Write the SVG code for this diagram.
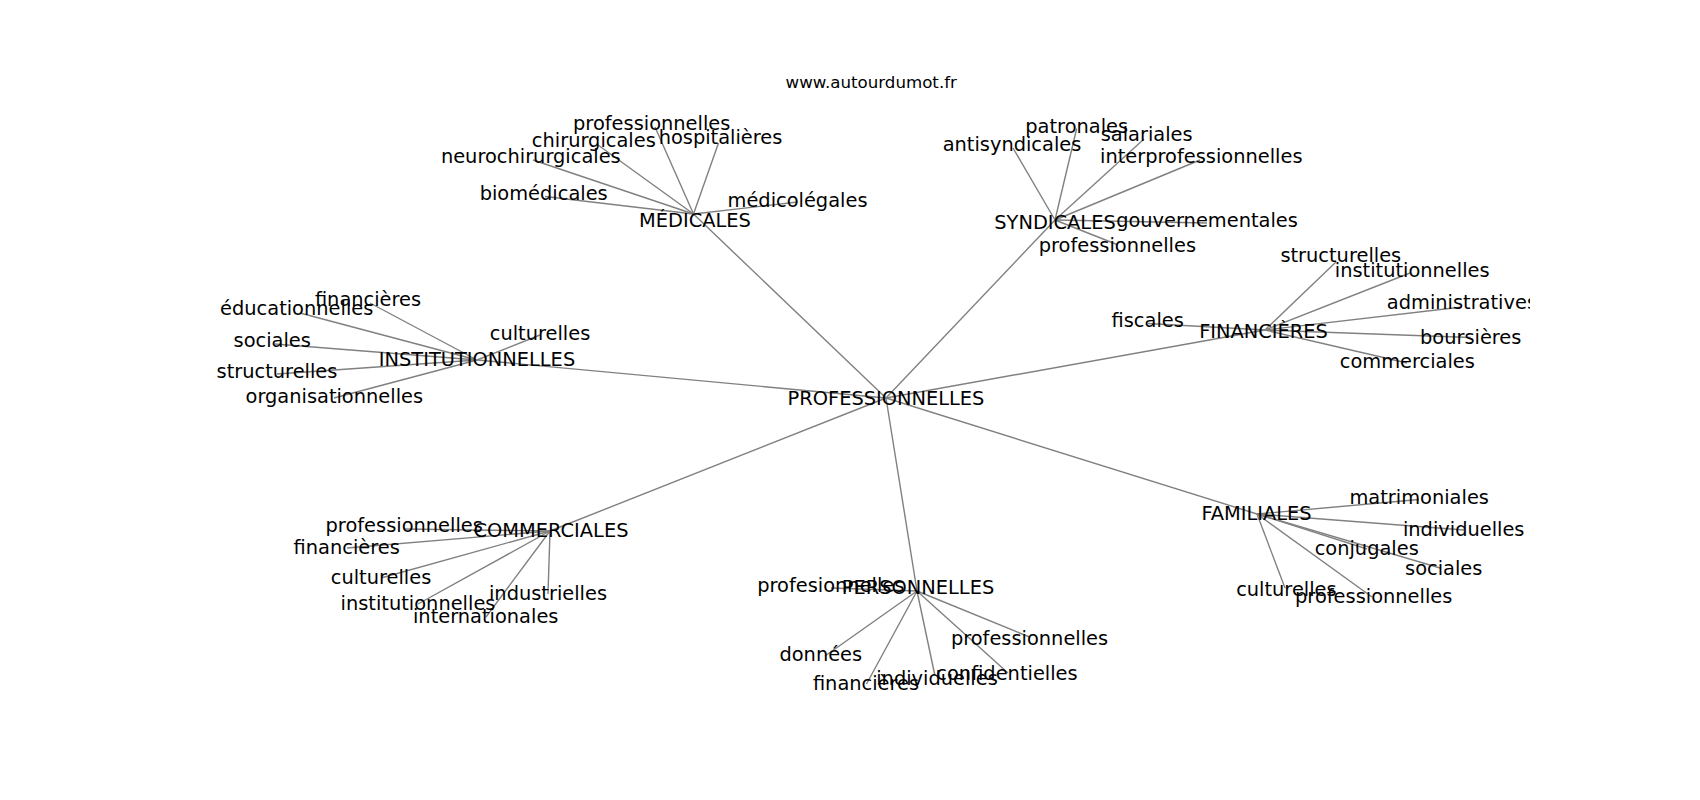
<svg xmlns="http://www.w3.org/2000/svg" width="1700" height="800" viewBox="0 0 1700 800">
<style>
.e{stroke:#808080;stroke-width:1.4;fill:none}
.t{font-family:"DejaVu Sans","Liberation Sans",sans-serif;font-size:19.4px;fill:#000;text-anchor:middle}
.title{font-family:"DejaVu Sans","Liberation Sans",sans-serif;font-size:16.67px;fill:#000;text-anchor:middle}
</style>
<defs><clipPath id="ax"><rect x="212.5" y="96" width="1317.5" height="616"/></clipPath></defs>
<rect width="1700" height="800" fill="#fff"/>
<text class="title" x="871.25" y="87.8">www.autourdumot.fr</text>
<g clip-path="url(#ax)">
<g id="edges">
<line class="e" x1="886" y1="398" x2="693.5" y2="214"/>
<line class="e" x1="886" y1="398" x2="1055" y2="220"/>
<line class="e" x1="886" y1="398" x2="1265" y2="330"/>
<line class="e" x1="886" y1="398" x2="477" y2="360"/>
<line class="e" x1="886" y1="398" x2="550" y2="531"/>
<line class="e" x1="886" y1="398" x2="917" y2="591"/>
<line class="e" x1="886" y1="398" x2="1257" y2="514"/>
<line class="e" x1="693.5" y1="214" x2="655" y2="127"/>
<line class="e" x1="693.5" y1="214" x2="598" y2="145"/>
<line class="e" x1="693.5" y1="214" x2="718.5" y2="143"/>
<line class="e" x1="693.5" y1="214" x2="533" y2="160"/>
<line class="e" x1="693.5" y1="214" x2="545" y2="196.5"/>
<line class="e" x1="693.5" y1="214" x2="797.5" y2="202"/>
<line class="e" x1="1055" y1="220" x2="1013" y2="148"/>
<line class="e" x1="1055" y1="220" x2="1076.7" y2="128.5"/>
<line class="e" x1="1055" y1="220" x2="1144" y2="139"/>
<line class="e" x1="1055" y1="220" x2="1200" y2="160"/>
<line class="e" x1="1055" y1="220" x2="1207" y2="223"/>
<line class="e" x1="1055" y1="220" x2="1117" y2="244.5"/>
<line class="e" x1="1265" y1="330" x2="1336" y2="262"/>
<line class="e" x1="1265" y1="330" x2="1410" y2="273"/>
<line class="e" x1="1265" y1="330" x2="1462" y2="307"/>
<line class="e" x1="1265" y1="330" x2="1148" y2="323.5"/>
<line class="e" x1="1265" y1="330" x2="1470.7" y2="337.5"/>
<line class="e" x1="1265" y1="330" x2="1407" y2="363"/>
<line class="e" x1="477" y1="360" x2="370" y2="303"/>
<line class="e" x1="477" y1="360" x2="300" y2="313"/>
<line class="e" x1="477" y1="360" x2="275" y2="344"/>
<line class="e" x1="477" y1="360" x2="277" y2="374"/>
<line class="e" x1="477" y1="360" x2="334" y2="398"/>
<line class="e" x1="477" y1="360" x2="540" y2="335"/>
<line class="e" x1="550" y1="531" x2="404" y2="529"/>
<line class="e" x1="550" y1="531" x2="347" y2="548"/>
<line class="e" x1="550" y1="531" x2="381" y2="578"/>
<line class="e" x1="550" y1="531" x2="418" y2="604"/>
<line class="e" x1="550" y1="531" x2="486" y2="617"/>
<line class="e" x1="550" y1="531" x2="548" y2="594"/>
<line class="e" x1="917" y1="591" x2="831" y2="588"/>
<line class="e" x1="917" y1="591" x2="825" y2="656"/>
<line class="e" x1="917" y1="591" x2="866.5" y2="684"/>
<line class="e" x1="917" y1="591" x2="935" y2="676"/>
<line class="e" x1="917" y1="591" x2="1008" y2="673"/>
<line class="e" x1="917" y1="591" x2="1029.5" y2="637"/>
<line class="e" x1="1257" y1="514" x2="1419" y2="499.5"/>
<line class="e" x1="1257" y1="514" x2="1464" y2="530"/>
<line class="e" x1="1257" y1="514" x2="1367" y2="549"/>
<line class="e" x1="1257" y1="514" x2="1440" y2="568"/>
<line class="e" x1="1257" y1="514" x2="1285" y2="588"/>
<line class="e" x1="1257" y1="514" x2="1372" y2="597"/>
</g>
<g id="n-professionnelles"><text class="t" x="886" y="404.5">PROFESSIONNELLES</text></g>
<g id="n-medicales"><text class="t" x="695" y="227">MÉDICALES</text></g>
<g id="n-syndicales"><text class="t" x="1055" y="229">SYNDICALES</text></g>
<g id="n-financieres"><text class="t" x="1263.5" y="337.5">FINANCIÈRES</text></g>
<g id="n-institutionnelles"><text class="t" x="477" y="366">INSTITUTIONNELLES</text></g>
<g id="n-commerciales"><text class="t" x="551" y="536.5">COMMERCIALES</text></g>
<g id="n-personnelles"><text class="t" x="918" y="594">PERSONNELLES</text></g>
<g id="n-familiales"><text class="t" x="1256.5" y="519.5">FAMILIALES</text></g>
<g id="n-med-professionnelles"><text class="t" x="651.7" y="130">professionnelles</text></g>
<g id="n-med-chirurgicales"><text class="t" x="593.8" y="147.3">chirurgicales</text></g>
<g id="n-med-hospitalieres"><text class="t" x="720.5" y="144">hospitalières</text></g>
<g id="n-med-neurochirurgicales"><text class="t" x="530.8" y="163.3">neurochirurgicales</text></g>
<g id="n-med-biomedicales"><text class="t" x="543.7" y="200">biomédicales</text></g>
<g id="n-med-medicolegales"><text class="t" x="797.5" y="206.7">médicolégales</text></g>
<g id="n-syn-antisyndicales"><text class="t" x="1012" y="150.7">antisyndicales</text></g>
<g id="n-syn-patronales"><text class="t" x="1076.7" y="132.7">patronales</text></g>
<g id="n-syn-salariales"><text class="t" x="1146.7" y="140.7">salariales</text></g>
<g id="n-syn-interprofessionnelles"><text class="t" x="1201.3" y="163.3">interprofessionnelles</text></g>
<g id="n-syn-gouvernementales"><text class="t" x="1207" y="226.7">gouvernementales</text></g>
<g id="n-syn-professionnelles"><text class="t" x="1117.4" y="252">professionnelles</text></g>
<g id="n-fin-structurelles"><text class="t" x="1340.8" y="261.7">structurelles</text></g>
<g id="n-fin-institutionnelles"><text class="t" x="1412.2" y="276.7">institutionnelles</text></g>
<g id="n-fin-administratives"><text class="t" x="1461.9" y="309">administratives</text></g>
<g id="n-fin-fiscales"><text class="t" x="1147.7" y="327.3">fiscales</text></g>
<g id="n-fin-boursieres"><text class="t" x="1470.7" y="343.7">boursières</text></g>
<g id="n-fin-commerciales"><text class="t" x="1407.3" y="367.5">commerciales</text></g>
<g id="n-ins-financieres"><text class="t" x="368" y="305.7">financières</text></g>
<g id="n-ins-educationnelles"><text class="t" x="296.7" y="315">éducationnelles</text></g>
<g id="n-ins-sociales"><text class="t" x="272.2" y="347.3">sociales</text></g>
<g id="n-ins-structurelles"><text class="t" x="277" y="378.3">structurelles</text></g>
<g id="n-ins-organisationnelles"><text class="t" x="334.3" y="402.7">organisationnelles</text></g>
<g id="n-ins-culturelles"><text class="t" x="540" y="340">culturelles</text></g>
<g id="n-com-professionnelles"><text class="t" x="404.2" y="531.7">professionnelles</text></g>
<g id="n-com-financieres"><text class="t" x="346.7" y="554">financières</text></g>
<g id="n-com-culturelles"><text class="t" x="381" y="584">culturelles</text></g>
<g id="n-com-institutionnelles"><text class="t" x="418" y="610">institutionnelles</text></g>
<g id="n-com-internationales"><text class="t" x="485.7" y="623.4">internationales</text></g>
<g id="n-com-industrielles"><text class="t" x="548" y="599.6">industrielles</text></g>
<g id="n-per-profesionnelles"><text class="t" x="830.8" y="591.7">profesionnelles</text></g>
<g id="n-per-donnees"><text class="t" x="820.8" y="661.4">données</text></g>
<g id="n-per-financieres"><text class="t" x="866" y="689.6">financières</text></g>
<g id="n-per-individuelles"><text class="t" x="937" y="685">individuelles</text></g>
<g id="n-per-confidentielles"><text class="t" x="1007" y="680">confidentielles</text></g>
<g id="n-per-professionnelles"><text class="t" x="1029.5" y="645">professionnelles</text></g>
<g id="n-fam-matrimoniales"><text class="t" x="1419.2" y="504">matrimoniales</text></g>
<g id="n-fam-individuelles"><text class="t" x="1463.7" y="535.6">individuelles</text></g>
<g id="n-fam-conjugales"><text class="t" x="1366.7" y="555">conjugales</text></g>
<g id="n-fam-sociales"><text class="t" x="1443.7" y="574.6">sociales</text></g>
<g id="n-fam-culturelles"><text class="t" x="1286.4" y="596.3">culturelles</text></g>
<g id="n-fam-professionnelles"><text class="t" x="1373.7" y="602.8">professionnelles</text></g>
</g>
</svg>
